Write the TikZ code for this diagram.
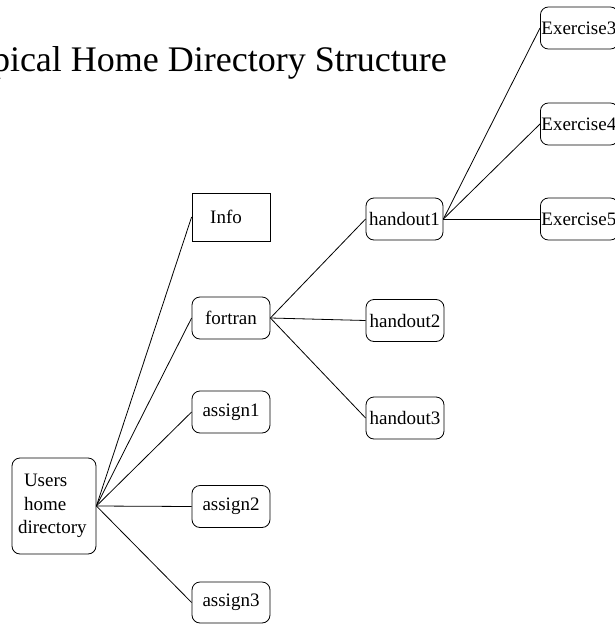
\documentclass[tikz,border=0pt]{standalone}
\usepackage{fontspec}
\setmainfont{Liberation Serif}
\begin{document}
\begin{tikzpicture}[x=1pt,y=-1pt,
  box/.style={draw,line width=0.8pt,rounded corners=8pt,minimum width=78pt,minimum height=42pt,inner sep=0pt,font=\fontsize{19}{23.5}\selectfont},
  sqbox/.style={box,rounded corners=0pt,minimum height=48pt},
  exbox/.style={box,text width=76pt,inner xsep=1pt,align=left},
  link/.style={line width=0.8pt}]
\useasboundingbox (0,0) rectangle (614,624);
\node[anchor=base east,inner sep=0pt,font=\fontsize{36}{40}\selectfont] (title) at (447,71) {Typical Home Directory Structure};
\node[box,minimum width=84pt,minimum height=96pt,text width=72pt,inner xsep=6pt,align=left] (users) at (54,506) {\hspace*{6pt}Users\\\hspace*{6pt}home\\directory};
\node[sqbox] (info) at (231,217) {\hspace*{-10pt}Info};
\node[box] (fortran) at (231,318) {fortran};
\node[box] (assign1) at (231,412) {assign1};
\node[box] (assign2) at (231,506.5) {assign2};
\node[box,minimum height=41pt] (assign3) at (231,602.5) {assign3};
\node[box,minimum width=77pt] (handout1) at (404.5,219) {handout1};
\node[box] (handout2) at (405,320.5) {handout2};
\node[box] (handout3) at (405,418) {handout3};
\node[exbox,anchor=west] (ex3) at (540,28) {Exercise3};
\node[exbox,anchor=west] (ex4) at (540,124) {Exercise4};
\node[exbox,anchor=west] (ex5) at (540,219) {Exercise5};
\foreach \n in {info,fortran,assign1,assign2,assign3}
  \draw[link] (users.east) -- (\n.west);
\foreach \n in {handout1,handout2,handout3}
  \draw[link] (fortran.east) -- (\n.west);
\foreach \n in {ex3,ex4,ex5}
  \draw[link] (handout1.east) -- (\n.west);
\end{tikzpicture}
\end{document}
